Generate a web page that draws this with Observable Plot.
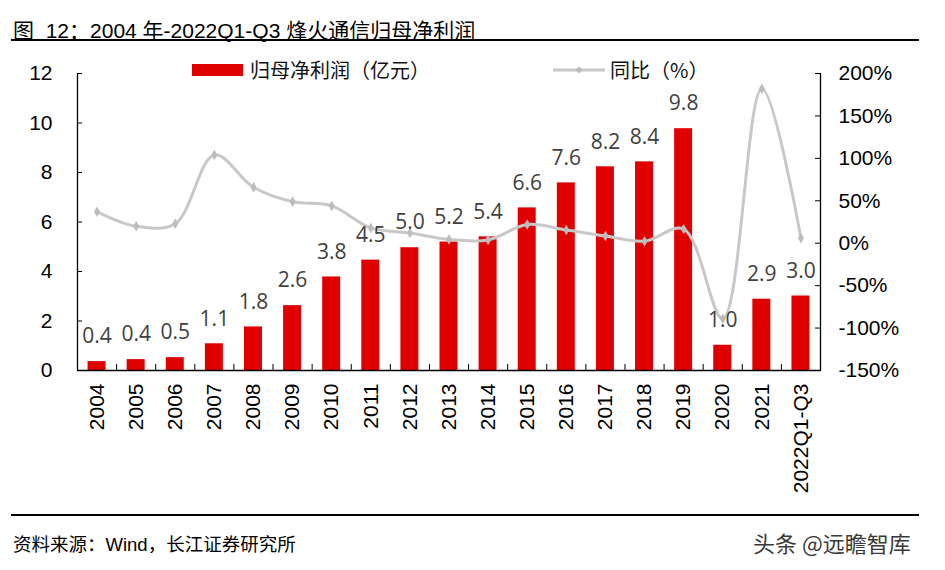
<!DOCTYPE html>
<html>
<head>
<meta charset="utf-8">
<script src="https://cdn.jsdelivr.net/npm/d3@7"></script>
<script src="https://cdn.jsdelivr.net/npm/@observablehq/plot@0.6"></script>
<style>
  html, body { margin: 0; padding: 0; background: #fff; }
  body { width: 945px; height: 570px; position: relative; overflow: hidden;
         font-family: "Liberation Sans", Arial, "Noto Sans CJK SC", sans-serif; }
  #title { position: absolute; left: 13px; top: 14px; font-size: 21px; color: #000; white-space: nowrap;
           font-family: "Liberation Sans", "Noto Sans CJK SC", sans-serif; }
  #rule-top { position: absolute; left: 11px; width: 908px; top: 39px; height: 2px; background: #000; }
  #chart { position: absolute; left: 0; top: 45px; }
  #rule-bottom { position: absolute; left: 11px; width: 908px; top: 514px; height: 2px; background: #000; }
  #source { position: absolute; left: 13px; top: 530px; font-size: 18.5px; color: #000; white-space: nowrap;
            font-family: "Liberation Sans", "Noto Sans CJK SC", sans-serif; }
  #mark { position: absolute; left: 753px; top: 526px; font-size: 22px; color: #3a3a3a; white-space: nowrap;
          text-shadow: 0 0 1px #fff; font-family: "Noto Sans CJK SC", sans-serif; }
  .legend { position: absolute; top: 55px; font-size: 20px; color: #111; white-space: nowrap;
            font-family: "Noto Sans CJK SC", sans-serif; display: flex; align-items: center; }
  .legend .sw { display: inline-block; }
</style>
</head>
<body>
<div id="title">图&nbsp; 12：2004 年-2022Q1-Q3 烽火通信归母净利润</div>
<div id="rule-top"></div>
<div id="chart"></div>
<div id="legend-bar" class="legend" style="left:192px;"><span class="sw" style="width:51px;height:12px;background:#e00000;margin-right:7px;"></span>归母净利润（亿元）</div>
<div id="legend-line" class="legend" style="left:553px;"><svg class="sw" width="52" height="12" style="margin-right:5px;"><line x1="0" x2="52" y1="6" y2="6" stroke="#c8c8c8" stroke-width="3"/><path d="M26,2.5L29.5,6L26,9.5L22.5,6Z" fill="#bbb"/></svg>同比（%）</div>
<div id="rule-bottom"></div>
<div id="source">资料来源：Wind，长江证券研究所</div>
<div id="mark">头条 @远瞻智库</div>
<script>
// ---- data ----
const categories = ["2004","2005","2006","2007","2008","2009","2010","2011","2012","2013",
                    "2014","2015","2016","2017","2018","2019","2020","2021","2022Q1-Q3"];
const profit = [0.36,0.44,0.52,1.08,1.76,2.62,3.78,4.46,4.96,5.19,
                5.40,6.57,7.58,8.23,8.43,9.77,1.02,2.88,3.01]; // 亿元
const yoy = [37,20,23,104,66,49,44,18,12,4.5,
             3.8,22,15.5,8.5,2.4,16.7,-89,182,6]; // %
const leftTicks = [0,2,4,6,8,10,12];
const rightTicks = [-150,-100,-50,0,50,100,150,200];

// ---- layout ----
const W = 945, H = 460;
const leftDomain = [0, 12];
const rightDomain = [-150, 200];
const xDomain = [-0.5, categories.length - 0.5];
const toLeft = v => leftDomain[0] + (v - rightDomain[0]) / (rightDomain[1] - rightDomain[0]) * (leftDomain[1] - leftDomain[0]);
const fromLeft = v => rightDomain[0] + (v - leftDomain[0]) / (leftDomain[1] - leftDomain[0]) * (rightDomain[1] - rightDomain[0]);

const rows = categories.map((c, i) => ({i, c, profit: profit[i], yoy: yoy[i], yoyL: toLeft(yoy[i])}));
const idx = categories.map((c, i) => i);
const bounds = categories.slice(1).map((c, i) => i + 0.5);
const halfBar = 0.23;

const axisFont = {fontSize: 21, fontFamily: "Liberation Sans, Arial, sans-serif", fill: "#000"};

const chart = Plot.plot({
  width: W, height: H,
  marginLeft: 77, marginRight: 125, marginTop: 28, marginBottom: 135,
  style: {background: "transparent", overflow: "visible"},
  x: {type: "linear", domain: xDomain, label: null},
  y: {domain: leftDomain, label: null},
  marks: [
    Plot.rectY(rows, {x1: d => d.i - halfBar, x2: d => d.i + halfBar, y1: 0, y2: "profit", fill: "#e00000"}),
    Plot.line(rows, {x: "i", y: "yoyL", curve: "catmull-rom", stroke: "#c8c8c8", strokeWidth: 3}),
    Plot.dot(rows, {x: "i", y: "yoyL", symbol: "diamond", r: 3.2, fill: "#bcbcbc"}),
    Plot.text(rows, {x: "i", y: "profit", text: d => d.profit.toFixed(1), dy: -25,
      fontSize: 21, fill: "#404040", fontFamily: "Open Sans, sans-serif"}),
    // axis lines
    Plot.ruleY([leftDomain[0]], {stroke: "#000", strokeWidth: 1.3}),
    Plot.ruleX(xDomain, {stroke: "#000", strokeWidth: 1.3}),
    // left axis
    Plot.axisY(leftTicks, {anchor: "left", label: null, tickSize: -5, tickPadding: 30, stroke: "#000", ...axisFont}),
    // right axis
    Plot.axisY(rightTicks.map(toLeft), {anchor: "right", label: null, tickSize: -6, tickPadding: 24, stroke: "#000",
      tickFormat: d => Math.round(fromLeft(d)) + "%", ...axisFont}),
    // bottom category tick marks (band boundaries)
    Plot.axisX(bounds, {anchor: "bottom", label: null, tickSize: -6, stroke: "#000", tickFormat: () => ""}),
    // bottom labels
    Plot.axisX(idx, {anchor: "bottom", label: null, tickSize: 0, tickPadding: 13, tickRotate: -90,
      tickFormat: i => categories[i], ...axisFont})
  ]
});
document.getElementById("chart").appendChild(chart);
</script>
</body>
</html>
